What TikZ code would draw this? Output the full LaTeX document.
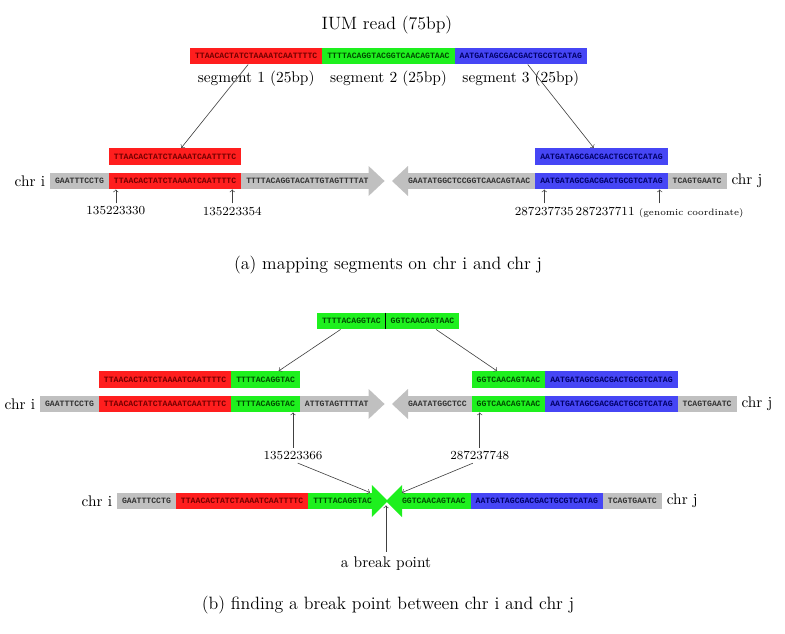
\documentclass[tikz,border=0pt]{standalone}
\usepackage{fontspec}
\setmonofont{Liberation Mono}
\usetikzlibrary{positioning}

\definecolor{segRed}{RGB}{255,30,30}
\definecolor{segGreen}{RGB}{30,240,30}
\definecolor{segBlue}{RGB}{70,70,245}
\definecolor{segGray}{RGB}{192,192,192}

\newcommand{\seqfont}{\ttfamily\bfseries\fontsize{5.3}{6}\selectfont}
\newcommand{\capfont}{\fontsize{11.6}{14}\selectfont}
% 箭头头部: #1 节点, #2 颜色, #3 半高
\newcommand{\tipRight}[3]{\fill[#2] (#1.east) ++(-5,-#3) -- ++(16,#3) -- ++(-16,#3) -- cycle;}
\newcommand{\tipLeft}[3]{\fill[#2] (#1.west) ++(5,-#3) -- ++(-16,#3) -- ++(16,#3) -- cycle;}

\begin{document}
\begin{tikzpicture}[
        x=0.65pt, y=-0.65pt,
        seq/.style={inner xsep=3.25pt, inner ysep=0pt, outer sep=0pt, minimum height=11pt, anchor=west, font=\seqfont},
        segR/.style={seq, fill=segRed, text=red!45!black},
        segG/.style={seq, fill=segGreen, text=green!30!black},
        segB/.style={seq, fill=segBlue, text=blue!40!black},
        segN/.style={seq, fill=segGray, text=black!80},
        chr/.style={inner sep=0pt},
        num/.style={font=\footnotesize, inner sep=2pt, anchor=north},
        link/.style={->, black!75}
    ]
    \useasboundingbox (0,0) rectangle (785,633);

    % --- 1. IUM 读段 ---
    \node[font=\capfont] (title) at (387,25) {IUM read (75bp)};
    \node[segR] (r0) at (190,56) {TTAACACTATCTAAAATCAATTTTC};
    \node[segG, right=0pt of r0] (g0) {TTTTACAGGTACGGTCAACAGTAAC};
    \node[segB, right=0pt of g0] (b0) {AATGATAGCGACGACTGCGTCATAG};
    \node[below=1pt of r0] (s1) {segment 1 (25bp)};
    \node[below=1pt of g0] (s2) {segment 2 (25bp)};
    \node[below=1pt of b0] (s3) {segment 3 (25bp)};

    % --- 2. (a) chr i ---
    \node[segN] (ga) at (50,181) {GAATTTCCTG};
    \node[segR, right=0pt of ga] (ra) {TTAACACTATCTAAAATCAATTTTC};
    \node[segN, right=0pt of ra] (ta) {TTTTACAGGTACATTGTAGTTTTAT};
    \tipRight{ta}{segGray}{15}
    \node[segR, above=5pt of ra] (rua) {TTAACACTATCTAAAATCAATTTTC};
    \node[chr, left=3pt of ga] (chria) {chr i};

    % --- 3. (a) chr j ---
    \node[segN] (gja) at (403,181) {GAATATGGCTCCGGTCAACAGTAAC};
    \tipLeft{gja}{segGray}{15}
    \node[segB, right=0pt of gja] (bja) {AATGATAGCGACGACTGCGTCATAG};
    \node[segN, right=0pt of bja] (tja) {TCAGTGAATC};
    \node[segB, above=5pt of bja] (bua) {AATGATAGCGACGACTGCGTCATAG};
    \node[chr, right=3pt of tja] (chrja) {chr j};

    % 映射
    \draw[link] ([xshift=-5.2pt]r0.south) -- ([xshift=4pt]rua.north);
    \draw[link] ([xshift=4.5pt]b0.south) -- ([xshift=-5pt]bua.north);

    % 坐标
    \node[num] (na1) at ([xshift=4.5pt, yshift=-9pt]ra.south west) {135223330};
    \node[num] (na2) at ([xshift=-5.85pt, yshift=-9pt]ra.south east) {135223354};
    \node[num] (nb1) at ([xshift=5.85pt, yshift=-9pt]bja.south west) {287237735};
    \node[num] (nb2) at ([xshift=-5.2pt, yshift=-9pt]bja.south east) {287237711 {\fontsize{6}{7}\selectfont (genomic coordinate)}};
    \foreach \n/\s in {na1/ra, na2/ra, nb1/bja, nb2/bja}
        \draw[link] (\n.north) -- (\n.north |- \s.south);

    \node[font=\capfont] (capa) at (388,265) {(a) mapping segments on chr i and chr j};

    % --- 4. (b) 读段中间的片段 ---
    \node[segG] (p1) at (317,321) {TTTTACAGGTAC};
    \node[segG, right=0pt of p1] (p2) {GGTCAACAGTAAC};
    \draw[line width=1pt] (p1.north east) -- (p1.south east);

    % --- 5. (b) chr i / chr j ---
    \node[segN] (gb) at (40,404) {GAATTTCCTG};
    \node[segR, right=0pt of gb] (rb) {TTAACACTATCTAAAATCAATTTTC};
    \node[segG, right=0pt of rb] (gnb) {TTTTACAGGTAC};
    \node[segN, right=0pt of gnb] (tb) {ATTGTAGTTTTAT};
    \tipRight{tb}{segGray}{15}
    \node[segR, above=5pt of rb] (rub) {TTAACACTATCTAAAATCAATTTTC};
    \node[segG, right=0pt of rub] (gub) {TTTTACAGGTAC};
    \node[chr, left=3pt of gb] (chrib) {chr i};

    \node[segN] (gjb) at (403,404) {GAATATGGCTCC};
    \tipLeft{gjb}{segGray}{15}
    \node[segG, right=0pt of gjb] (gnjb) {GGTCAACAGTAAC};
    \node[segB, right=0pt of gnjb] (bjb) {AATGATAGCGACGACTGCGTCATAG};
    \node[segN, right=0pt of bjb] (tjb) {TCAGTGAATC};
    \node[segG, above=5pt of gnjb] (gujb) {GGTCAACAGTAAC};
    \node[segB, right=0pt of gujb] (bujb) {AATGATAGCGACGACTGCGTCATAG};
    \node[chr, right=3pt of tjb] (chrjb) {chr j};

    \draw[link] ([xshift=-7pt]p1.south) -- ([xshift=8.5pt]gub.north);
    \draw[link] ([xshift=8.8pt]p2.south) -- ([xshift=-7.5pt]gujb.north);

    \node[num] (nc1) at ([xshift=-4.5pt, yshift=-23pt]gnb.south east) {135223366};
    \node[num] (nc2) at ([xshift=5.2pt, yshift=-23pt]gnjb.south west) {287237748};
    \draw[link] (nc1.north) -- (nc1.north |- gnb.south);
    \draw[link] (nc2.north) -- (nc2.north |- gnjb.south);

    % --- 6. (b) 断点 ---
    \node[segN] (gc) at (117,501) {GAATTTCCTG};
    \node[segR, right=0pt of gc] (rc) {TTAACACTATCTAAAATCAATTTTC};
    \node[segG, right=0pt of rc] (gnc) {TTTTACAGGTAC};
    \tipRight{gnc}{segGreen}{16}
    \node[chr, left=3pt of gc] (chric) {chr i};

    \node[segG] (gnjc) at (397,501) {GGTCAACAGTAAC};
    \tipLeft{gnjc}{segGreen}{16}
    \node[segB, right=0pt of gnjc] (bjc) {AATGATAGCGACGACTGCGTCATAG};
    \node[segN, right=0pt of bjc] (tjc) {TCAGTGAATC};
    \node[chr, right=3pt of tjc] (chrjc) {chr j};

    \draw[link] ([xshift=3pt]nc1.south) -- ([xshift=-4.5pt]gnc.north east);
    \draw[link] ([xshift=-4.5pt]nc2.south) -- ([xshift=3.25pt]gnjc.north west);

    \node (bp) at (386,564) {a break point};
    \draw[link] (bp.north) -- ([yshift=2.6pt]bp.north |- gnc.south);

    \node[font=\capfont] (capb) at (388,605) {(b) finding a break point between chr i and chr j};

\end{tikzpicture}
\end{document}
